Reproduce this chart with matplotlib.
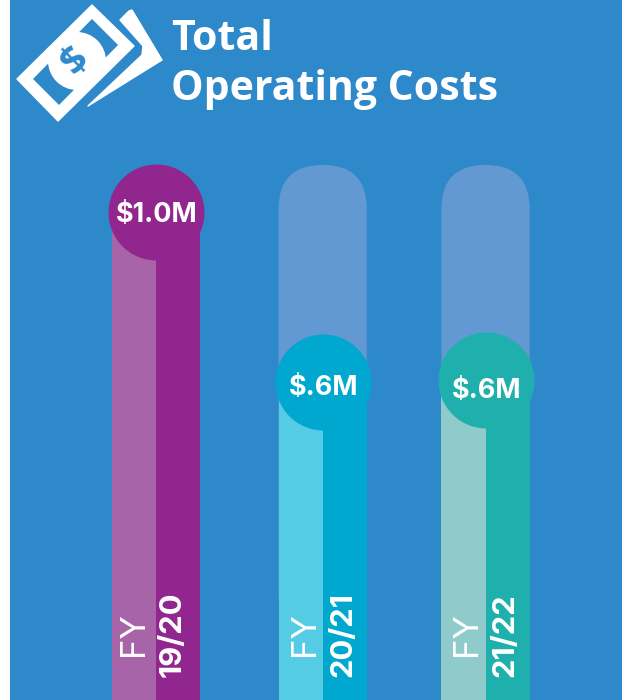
import matplotlib
matplotlib.use("Agg")
import matplotlib.pyplot as plt
from matplotlib.patches import FancyBboxPatch, Polygon, Circle, PathPatch
from matplotlib.path import Path

# values, in $M
years = ["19/20", "20/21", "21/22"]
costs = [1.0, 0.6, 0.605]
cost_labels = ["$1.0M", "$.6M", "$.6M"]

dark_cols = ["#91268F", "#00A7CF", "#1FAFAD"]
light_cols = ["#A864A8", "#56CBE4", "#8FCBCB"]
track_col = "#6399D3"
bg_col = "#2E89CB"

# bar spacing is not quite even in the original
bar_x = [-0.004, 1.007, 1.994]
label_dy = [-0.008, -0.013, -0.026]
fy_dx = [0.0, 0.025, 0.02]

track_top = 1.109
bar_floor = -0.2
half_w = 0.267

plt.rcParams['font.family'] = ['Inter', 'DejaVu Sans']

fig = plt.figure(figsize=(6.26, 7), dpi=100, facecolor="white")

# main chart, blue panel leaves a white strip on both sides
ax = fig.add_axes([10 / 626, 0, 612 / 626, 1], facecolor=bg_col)
ax.set_xlim(-0.888, 2.821)
ax.set_ylim(-0.143, 1.495)
ax.set_xticks([])
ax.set_yticks([])
for s in ax.spines.values():
    s.set_visible(False)

for i, (yr, val, lab) in enumerate(zip(years, costs, cost_labels)):
    x = bar_x[i]
    # rounded background track, the full bar hides it
    if val < 1.0:
        track = FancyBboxPatch((x - half_w, 0), 2 * half_w, track_top,
                               boxstyle="round,pad=0,rounding_size=0.265",
                               mutation_aspect=0.386, fc=track_col, ec="none", zorder=1)
        ax.add_patch(track)
    ax.bar(x - half_w / 2, val - bar_floor, bottom=bar_floor, width=half_w,
           color=light_cols[i], zorder=2)
    ax.bar(x + half_w / 2, val - bar_floor, bottom=bar_floor, width=half_w,
           color=dark_cols[i], zorder=2)
    ax.scatter([x], [val], s=4778, color=dark_cols[i], linewidths=0, zorder=3)
    ax.text(x + 0.005, val + label_dy[i], lab, color="white", fontsize=19.5, fontweight="bold",
            ha="center", va="center", zorder=4)
    ax.text(x - 0.135 + fy_dx[i], -0.04, "FY", color="white", fontsize=25,
            rotation=90, ha="center", va="bottom", zorder=4)
    ax.text(x + 0.1 + fy_dx[i], -0.089, yr, color="white", fontsize=22.3, fontweight="bold",
            rotation=90, ha="center", va="bottom", zorder=4)

# header drawn in pixel coordinates
top = fig.add_axes([0, 0, 1, 1], facecolor="none")
top.set_xlim(0, 626)
top.set_ylim(700, 0)
top.axis("off")

top.text(171, 50, "Total", color="white", fontsize=29.5, fontweight="bold",
         family="Open Sans", va="baseline")
top.text(171, 100, "Operating Costs", color="white", fontsize=29.5, fontweight="bold",
         family="Open Sans", va="baseline")

# money icon
back_bill = Polygon([(129, 11), (132, 10), (162, 60), (88, 106), (142, 55), (143, 46), (120, 20)],
                    closed=True, fc="white", ec="white", lw=1, joinstyle="round")
top.add_patch(back_bill)

outer = [(92, 5), (134, 46), (58, 121), (17, 79), (92, 5)]
inner = [(92, 18), (119, 45), (59, 106), (32, 79), (92, 18)]
codes = [Path.MOVETO, Path.LINETO, Path.LINETO, Path.LINETO, Path.CLOSEPOLY]
bill = PathPatch(Path(outer + inner[::-1], codes + codes),
                 fc="white", ec="white", lw=1, joinstyle="round")
top.add_patch(bill)

window = Polygon(inner, closed=True, transform=top.transData)
coin = Circle((77, 61), 29, fc="white", ec="none")
top.add_patch(coin)
coin.set_clip_path(window)
top.text(75, 61, "$", color=bg_col, fontsize=28, fontweight="bold", rotation=45,
         family="Open Sans", ha="center", va="center")

fig.savefig("out.png", dpi=100)
